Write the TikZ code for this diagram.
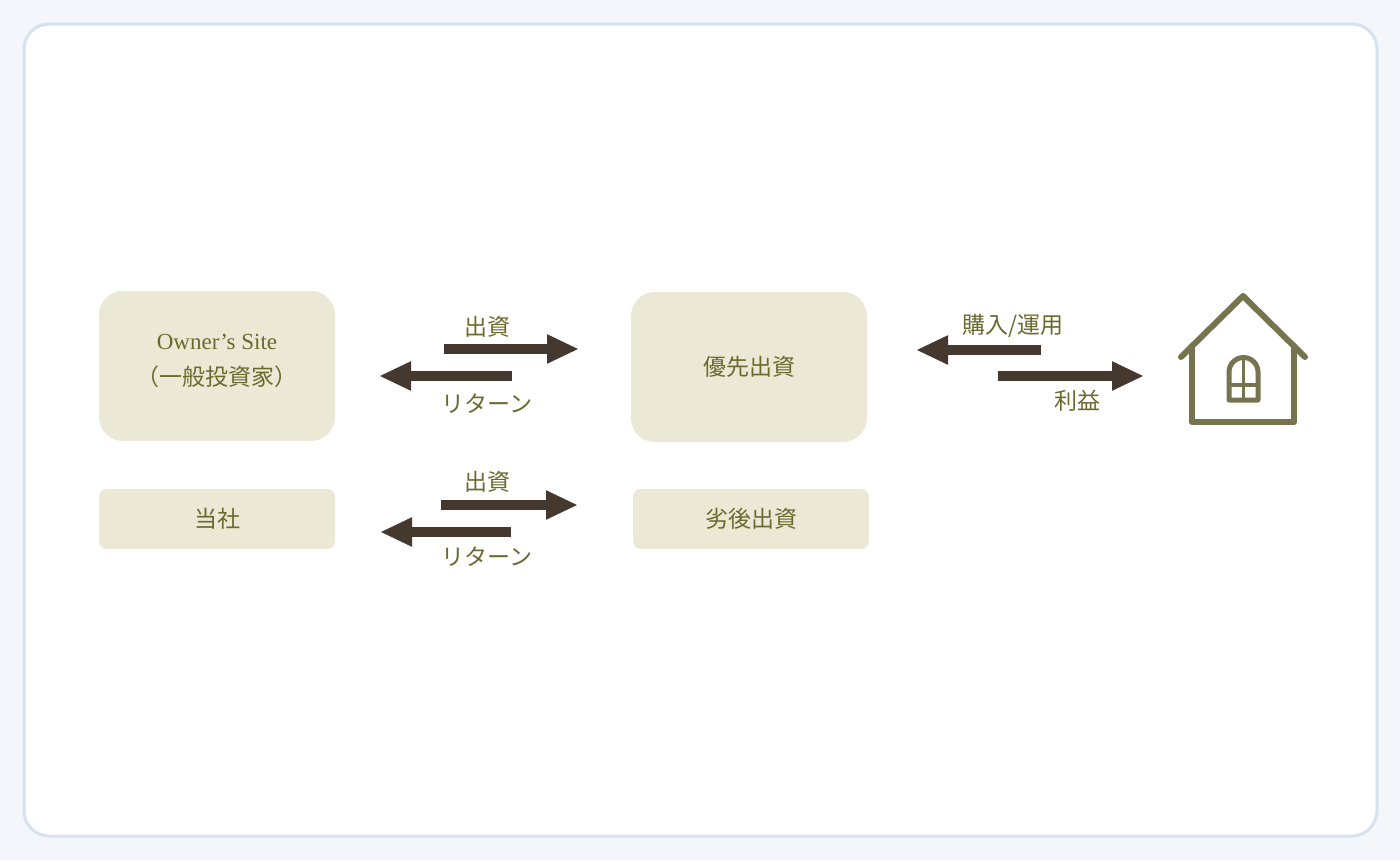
\documentclass[tikz,border=0pt]{standalone}
\usepackage{fontspec}
\setmainfont{Liberation Serif}
\newfontfamily\cjk{Noto Sans CJK JP}
\usetikzlibrary{positioning,arrows.meta}
\definecolor{pagebg}{HTML}{F3F7FC}
\definecolor{frame}{HTML}{D6E2EE}
\definecolor{boxfill}{HTML}{EBE9D5}
\definecolor{olive}{HTML}{6B6A2E}
\definecolor{arrowc}{HTML}{45382F}
\definecolor{housec}{HTML}{75744F}
\tikzset{
	x=1pt, y=-1pt, % pixel like units
	bigbox/.style={fill=boxfill, rounded corners=24pt, minimum width=236pt, minimum height=150pt, text=olive, align=center, font=\cjk\fontsize{23}{26}\selectfont},
	smallbox/.style={fill=boxfill, rounded corners=8pt, minimum width=236pt, minimum height=60pt, text=olive, font=\cjk\fontsize{23}{26}\selectfont},
	flow/.style={draw=arrowc, line width=10pt, -{Triangle[length=32pt,width=27pt]}, shorten >=-2pt},
	lbl/.style={text=olive, font=\cjk\fontsize{23}{26}\selectfont},
	house/.style={draw=housec, line width=6pt, line cap=round, line join=round},
}
\begin{document}
\begin{tikzpicture}
	\fill[pagebg] (0,0) rectangle (1400,860);
	\useasboundingbox (0,0) rectangle (1400,860);
	\draw[frame, fill=white, line width=3pt, rounded corners=25pt] (24,24) rectangle (1377,836);
	
	\node[bigbox] (owner) at (217,366) {};
	\node[text=olive, align=center, font=\fontsize{23}{36}\selectfont] (ownertxt) at (217,361) {Owner’s Site\\{\cjk （一般投資家）}};
	\node[bigbox] (senior) at (749,367) {優先出資};
	\node[smallbox] (company) at (217,519) {当社};
	\node[smallbox] (junior) at (751,519) {劣後出資};
	
	% arrow ends
	\coordinate (a1s) at (444,349); \coordinate (a1e) at (577,349);
	\coordinate (a2s) at (512,376); \coordinate (a2e) at (381,376);
	\coordinate (b1s) at (441,505); \coordinate (b1e) at (576,505);
	\coordinate (b2s) at (511,532); \coordinate (b2e) at (382,532);
	\coordinate (c1s) at (1041,350); \coordinate (c1e) at (918,350);
	\coordinate (c2s) at (998,376); \coordinate (c2e) at (1142,376);
	
	\draw[flow] (a1s) -- (a1e);
	\draw[flow] (a2s) -- (a2e);
	\draw[flow] (b1s) -- (b1e);
	\draw[flow] (b2s) -- (b2e);
	\draw[flow] (c1s) -- (c1e);
	\draw[flow] (c2s) -- (c2e);
	
	\node[lbl] (l1) at (487,327) {出資};
	\node[lbl] (l2) at (487,404) {リターン};
	\node[lbl] (l3) at (487,482) {出資};
	\node[lbl] (l4) at (487,557) {リターン};
	\node[lbl] (l5) at (1013,326) {購入/運用};
	\node[lbl] (l6) at (1077,401) {利益};
	
	% house
	\draw[house] (1181,357) -- (1243,296) -- (1305,357);
	\draw[house] (1192,346) -- (1192,422) -- (1294,422) -- (1294,346);
	\draw[house, line width=5pt] (1229,400) -- (1229,372) arc[start angle=180, end angle=360, radius=14.5] -- (1258,400) -- cycle;
	\draw[housec, line width=3.5pt] (1243.5,358) -- (1243.5,400) (1229,385) -- (1258,385);
\end{tikzpicture}
\end{document}
